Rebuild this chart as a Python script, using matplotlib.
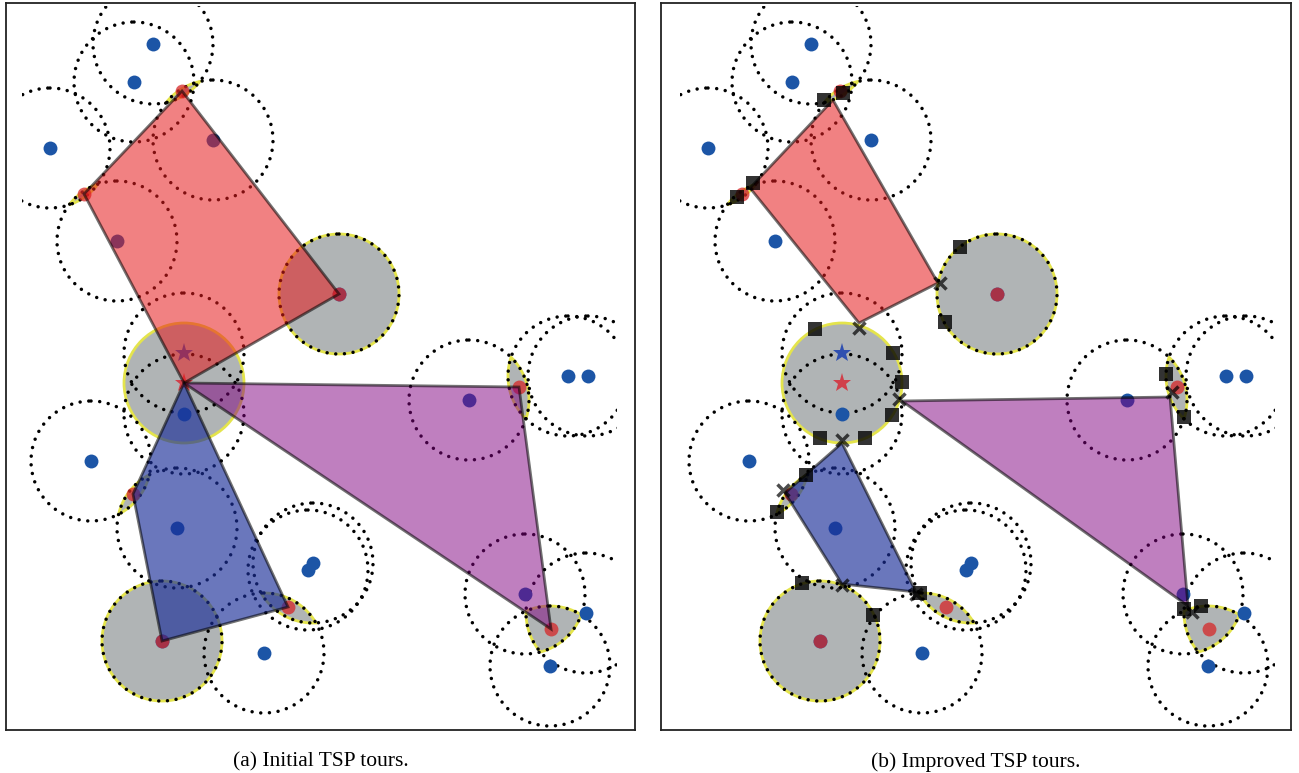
import numpy as np
import matplotlib.pyplot as plt
from matplotlib.patches import Circle, Polygon, Rectangle

R = 60  # sensing radius

# sensor locations (same field in both panels)
sensor_x = [153, 134, 50, 213, 117, 339, 184, 91, 177, 313, 308, 162, 264, 469, 568, 588, 525, 586, 550]
sensor_y = [44, 82, 148, 140, 241, 294, 414, 461, 528, 563, 570, 641, 653, 400, 376, 376, 594, 613, 666]
star_x, star_y = 184, 353
depot_x, depot_y = 184, 383

# visit regions = intersection of the member sensors' disks, visit point in red
region_members = [[0, 3], [2, 4], [5], [7, 8], [11], [9, 10, 12], [13, 14], [16, 17, 18]]
visit_x = [182, 84, 339, 133, 162, 288, 519, 551]
visit_y = [91, 194, 294, 494, 641, 607, 387, 629]

# initial tours
tour_a_red = [(182, 91), (339, 294), (184, 383), (84, 194)]
tour_a_purple = [(184, 383), (519, 387), (551, 629)]
tour_a_blue = [(184, 383), (133, 494), (162, 641), (288, 607)]

# improved tours
tour_b_red = [(175, 100), (280, 283), (201, 323), (92, 188)]
tour_b_purple = [(244, 401), (512, 397), (530, 606)]
tour_b_blue = [(184, 443), (127, 493), (184, 584), (258, 592)]

# boundary points of the improved tours
sq_x = [166, 185, 79, 95, 302, 287, 157, 235, 244, 234, 162, 207, 148, 119, 144, 215, 262, 508, 526, 526, 543]
sq_y = [100, 93, 197, 183, 247, 322, 329, 353, 382, 415, 438, 438, 475, 512, 583, 615, 593, 374, 417, 609, 606]
cross_x = [282, 201, 241, 184, 125, 184, 514, 534, 258]
cross_y = [283, 328, 399, 440, 490, 585, 392, 612, 594]

BLUE = '#1c55a6'
RED = '#d62728'
GRAY = '#b0b4b5'
YELLOW = '#e4e44c'
DOTS = (0, (0.01, 2.5))


def disk_intersection(idx):
    cx = np.array([sensor_x[i] for i in idx], float)
    cy = np.array([sensor_y[i] for i in idx], float)
    t = np.linspace(0, 2 * np.pi, 1440, endpoint=False)
    pts = []
    for x0, y0 in zip(cx, cy):
        px = x0 + R * np.cos(t)
        py = y0 + R * np.sin(t)
        ok = np.all((px[:, None] - cx) ** 2 + (py[:, None] - cy) ** 2 <= R ** 2 + 1.0, axis=1)
        pts.append(np.column_stack([px[ok], py[ok]]))
    pts = np.vstack(pts)
    m = pts.mean(axis=0)
    order = np.argsort(np.arctan2(pts[:, 1] - m[1], pts[:, 0] - m[0]))
    return pts[order]


def draw_field(ax, tours):
    # covered regions
    ax.add_patch(Circle((depot_x, depot_y), R, facecolor=GRAY, edgecolor=YELLOW, lw=2, zorder=1))
    for idx in region_members:
        ax.add_patch(Polygon(disk_intersection(idx), closed=True, facecolor=GRAY,
                             edgecolor=YELLOW, lw=2, zorder=1))

    # sensing disks
    clip = Rectangle((22, 6), 595, 724, transform=ax.transData)
    for x, y in zip(sensor_x + [star_x], sensor_y + [star_y]):
        c = Circle((x, y), R, fill=False, edgecolor='black', lw=2.5, linestyle=DOTS,
                   capstyle='round', zorder=2)
        ax.add_patch(c)
        c.set_clip_path(clip)

    ax.plot(sensor_x, sensor_y, 'o', color=BLUE, ms=10, mew=0, zorder=3)
    ax.plot(star_x, star_y, '*', color='#3050b0', ms=14, mew=0, zorder=3)
    ax.plot(visit_x, visit_y, 'o', color=RED, alpha=0.75, ms=10, mew=0, zorder=4)
    ax.plot(depot_x, depot_y, '*', color='#d0404a', ms=14, mew=0, zorder=4)

    colors = [(0.90, 0.10, 0.11, 0.55), (0.50, 0.0, 0.50, 0.5), (0.10, 0.18, 0.60, 0.65)]
    for verts, fc in zip(tours, colors):
        ax.add_patch(Polygon(verts, closed=True, facecolor=fc,
                             edgecolor=(0, 0, 0, 0.55), lw=2, zorder=5))


fig = plt.figure(figsize=(12.99, 7.73), dpi=100)
W, H = 1299, 773
ax_a = fig.add_axes([6 / W, 1 - 730 / H, 629 / W, 727 / H])
ax_b = fig.add_axes([661 / W, 1 - 730 / H, 630 / W, 727 / H])

draw_field(ax_a, [tour_a_red, tour_a_purple, tour_a_blue])
draw_field(ax_b, [tour_b_red, tour_b_purple, tour_b_blue])
ax_b.plot(sq_x, sq_y, 's', color='black', alpha=0.8, ms=9.5, mew=0, zorder=6)
ax_b.plot(cross_x, cross_y, 'x', color='black', alpha=0.7, ms=9, mew=2.5, zorder=6)

ax_a.set_xlim(6, 635)
ax_b.set_xlim(3, 633)
for ax in (ax_a, ax_b):
    ax.set_ylim(730, 3)
    ax.set_xticks([])
    ax.set_yticks([])
    for s in ax.spines.values():
        s.set_color('#222222')
        s.set_linewidth(1.3)

fig.text(321 / W, 1 - 762 / H, '(a) Initial TSP tours.', ha='center', va='center',
         family='Liberation Serif', fontsize=15.5)
fig.text(976 / W, 1 - 762 / H, '(b) Improved TSP tours.', ha='center', va='center',
         family='Liberation Serif', fontsize=15.5)

fig.savefig('out.png', dpi=100)
